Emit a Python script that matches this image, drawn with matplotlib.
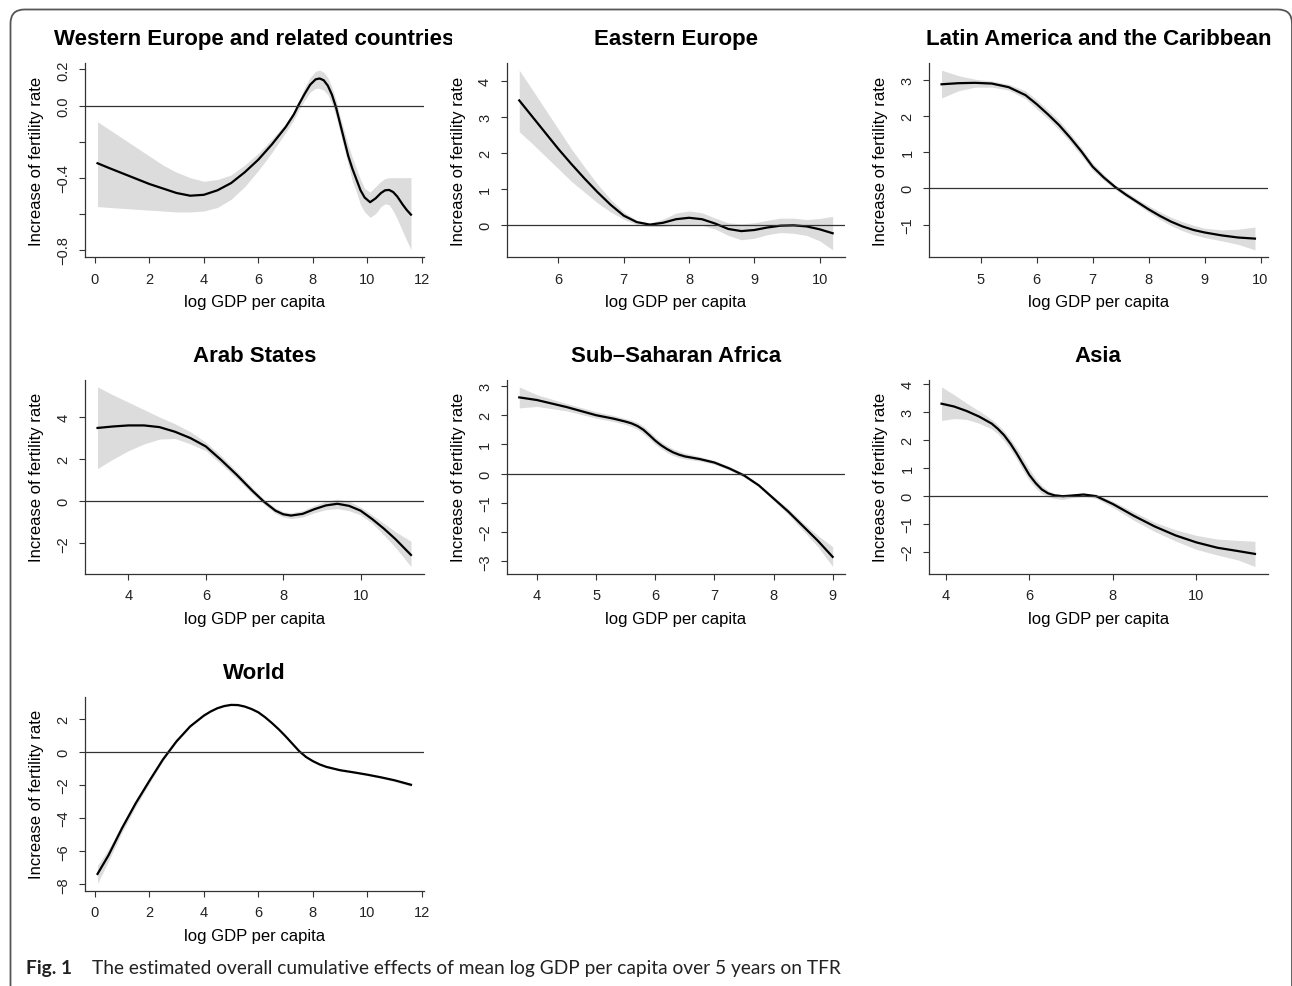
import numpy as np
import matplotlib.pyplot as plt
from matplotlib.patches import FancyBboxPatch
from matplotlib.transforms import IdentityTransform, Bbox

# Western Europe and related countries
we_x = [0.1, 0.5, 1.0, 1.5, 2.0, 2.5, 3.0, 3.5, 4.0, 4.5, 5.0, 5.5, 6.0, 6.5, 7.0, 7.3,
        7.5, 7.7, 7.9, 8.1, 8.25, 8.4, 8.55, 8.7, 8.85, 9.0, 9.15, 9.3, 9.45, 9.6, 9.75,
        9.9, 10.1, 10.3, 10.5, 10.65, 10.8, 10.95, 11.1, 11.3, 11.45, 11.6]
we_fit = [-0.32, -0.345, -0.375, -0.405, -0.435, -0.46, -0.485, -0.50, -0.495, -0.47, -0.43,
          -0.37, -0.30, -0.215, -0.12, -0.05, 0.01, 0.065, 0.115, 0.145, 0.15, 0.14, 0.11,
          0.06, -0.01, -0.10, -0.19, -0.28, -0.35, -0.41, -0.47, -0.51, -0.536, -0.515,
          -0.485, -0.47, -0.468, -0.48, -0.505, -0.55, -0.58, -0.605]
we_hi = [-0.09, -0.13, -0.18, -0.23, -0.28, -0.33, -0.37, -0.40, -0.42, -0.41, -0.385,
         -0.33, -0.265, -0.185, -0.10, -0.03, 0.03, 0.10, 0.155, 0.19, 0.196, 0.185, 0.155,
         0.10, 0.03, -0.06, -0.14, -0.22, -0.29, -0.35, -0.41, -0.46, -0.48, -0.45, -0.42,
         -0.405, -0.40, -0.40, -0.40, -0.40, -0.40, -0.40]
we_lo = [-0.56, -0.565, -0.57, -0.575, -0.58, -0.585, -0.59, -0.59, -0.585, -0.565, -0.52,
         -0.45, -0.36, -0.26, -0.15, -0.08, -0.02, 0.03, 0.075, 0.095, 0.095, 0.085, 0.06,
         0.01, -0.06, -0.15, -0.24, -0.33, -0.42, -0.48, -0.55, -0.59, -0.62, -0.60, -0.56,
         -0.545, -0.55, -0.585, -0.63, -0.70, -0.75, -0.80]

# Eastern Europe
ee_x = [5.4, 5.6, 5.8, 6.0, 6.2, 6.4, 6.6, 6.8, 7.0, 7.2, 7.4, 7.6, 7.8, 8.0, 8.2, 8.4,
        8.6, 8.8, 9.0, 9.2, 9.4, 9.6, 9.8, 10.0, 10.2]
ee_fit = [3.45, 3.0, 2.55, 2.1, 1.68, 1.28, 0.9, 0.55, 0.25, 0.07, 0.0, 0.05, 0.15, 0.19,
          0.15, 0.03, -0.12, -0.18, -0.15, -0.08, -0.03, -0.02, -0.05, -0.13, -0.24]
ee_hi = [4.29, 3.75, 3.2, 2.65, 2.1, 1.6, 1.12, 0.7, 0.35, 0.12, 0.04, 0.15, 0.32, 0.38,
         0.33, 0.18, 0.05, 0.02, 0.05, 0.12, 0.18, 0.18, 0.14, 0.17, 0.23]
ee_lo = [2.58, 2.25, 1.9, 1.55, 1.2, 0.9, 0.6, 0.35, 0.15, 0.0, -0.05, -0.05, -0.02, 0.0,
         -0.02, -0.12, -0.3, -0.42, -0.38, -0.28, -0.22, -0.24, -0.3, -0.45, -0.7]

# Latin America and the Caribbean
la_x = [4.3, 4.6, 4.9, 5.2, 5.5, 5.8, 6.0, 6.2, 6.4, 6.6, 6.8, 7.0, 7.2, 7.4, 7.6, 7.8,
        8.0, 8.2, 8.4, 8.6, 8.8, 9.0, 9.3, 9.6, 9.9]
la_fit = [2.88, 2.91, 2.92, 2.9, 2.8, 2.58, 2.33, 2.05, 1.75, 1.4, 1.02, 0.6, 0.3, 0.04,
          -0.18, -0.38, -0.58, -0.76, -0.92, -1.05, -1.15, -1.22, -1.3, -1.36, -1.39]
la_hi = [3.27, 3.12, 3.02, 2.97, 2.88, 2.7, 2.45, 2.17, 1.88, 1.52, 1.12, 0.7, 0.38, 0.1,
         -0.1, -0.3, -0.48, -0.65, -0.8, -0.92, -1.02, -1.1, -1.15, -1.13, -1.07]
la_lo = [2.5, 2.7, 2.8, 2.8, 2.72, 2.48, 2.2, 1.93, 1.62, 1.28, 0.9, 0.5, 0.22, -0.02,
         -0.24, -0.45, -0.66, -0.86, -1.03, -1.17, -1.28, -1.36, -1.45, -1.55, -1.7]

# Arab States
ar_x = [3.2, 3.6, 4.0, 4.4, 4.8, 5.2, 5.6, 6.0, 6.4, 6.8, 7.2, 7.5, 7.8, 8.0, 8.2, 8.5,
        8.8, 9.1, 9.4, 9.7, 10.0, 10.3, 10.6, 10.9, 11.3]
ar_fit = [3.48, 3.55, 3.6, 3.6, 3.52, 3.3, 3.0, 2.6, 1.95, 1.25, 0.5, -0.02, -0.45, -0.62,
          -0.68, -0.6, -0.38, -0.2, -0.12, -0.22, -0.45, -0.85, -1.3, -1.8, -2.55]
ar_hi = [5.43, 5.05, 4.7, 4.35, 4.0, 3.68, 3.3, 2.8, 2.15, 1.42, 0.65, 0.1, -0.32, -0.5,
         -0.55, -0.45, -0.2, 0.0, 0.1, 0.0, -0.28, -0.65, -1.05, -1.45, -1.9]
ar_lo = [1.55, 2.0, 2.4, 2.72, 2.95, 2.98, 2.72, 2.4, 1.75, 1.08, 0.35, -0.15, -0.58,
         -0.75, -0.82, -0.75, -0.55, -0.4, -0.35, -0.45, -0.65, -1.05, -1.6, -2.2, -3.1]

# Sub-Saharan Africa
ss_x = [3.7, 4.0, 4.5, 5.0, 5.3, 5.5, 5.6, 5.7, 5.8, 5.9, 6.0, 6.1, 6.2, 6.3, 6.4, 6.5,
        6.75, 7.0, 7.25, 7.5, 7.75, 8.0, 8.25, 8.5, 8.75, 9.0]
ss_fit = [2.61, 2.52, 2.28, 2.0, 1.88, 1.78, 1.72, 1.63, 1.5, 1.32, 1.13, 0.97, 0.84, 0.73,
          0.65, 0.59, 0.5, 0.38, 0.18, -0.06, -0.4, -0.85, -1.3, -1.8, -2.3, -2.85]
ss_hi = [2.97, 2.7, 2.4, 2.12, 1.99, 1.88, 1.83, 1.75, 1.63, 1.45, 1.25, 1.09, 0.96, 0.85,
         0.77, 0.7, 0.58, 0.45, 0.25, 0.0, -0.35, -0.78, -1.2, -1.68, -2.12, -2.5]
ss_lo = [2.25, 2.3, 2.15, 1.9, 1.78, 1.68, 1.61, 1.51, 1.37, 1.19, 1.0, 0.85, 0.72, 0.62,
         0.55, 0.5, 0.43, 0.32, 0.12, -0.12, -0.45, -0.92, -1.4, -1.95, -2.5, -3.18]

# Asia
as_x = [3.9, 4.2, 4.5, 4.8, 5.1, 5.25, 5.4, 5.55, 5.7, 5.85, 6.0, 6.15, 6.3, 6.45, 6.6,
        6.8, 7.0, 7.3, 7.6, 8.0, 8.5, 9.0, 9.5, 10.0, 10.5, 11.0, 11.4]
as_fit = [3.28, 3.18, 3.02, 2.82, 2.57, 2.38, 2.15, 1.85, 1.5, 1.12, 0.74, 0.45, 0.22, 0.08,
          0.01, -0.02, 0.0, 0.04, -0.02, -0.3, -0.72, -1.1, -1.42, -1.67, -1.86, -1.98, -2.08]
as_hi = [3.88, 3.6, 3.3, 3.02, 2.72, 2.53, 2.3, 2.02, 1.7, 1.33, 0.95, 0.62, 0.36, 0.18,
         0.08, 0.03, 0.05, 0.08, 0.05, -0.2, -0.58, -0.95, -1.22, -1.42, -1.55, -1.6, -1.63]
as_lo = [2.68, 2.75, 2.72, 2.58, 2.38, 2.2, 1.95, 1.65, 1.3, 0.9, 0.55, 0.28, 0.07, -0.04,
         -0.1, -0.14, -0.08, -0.02, -0.1, -0.42, -0.88, -1.28, -1.62, -1.92, -2.12, -2.3, -2.53]

# World
wo_x = [0.1, 0.5, 1.0, 1.5, 2.0, 2.5, 3.0, 3.5, 4.0, 4.25, 4.5, 4.75, 5.0, 5.25, 5.5, 5.75,
        6.0, 6.25, 6.5, 6.75, 7.0, 7.25, 7.5, 7.75, 8.0, 8.25, 8.5, 9.0, 9.5, 10.0, 10.5,
        11.0, 11.6]
wo_fit = [-7.37, -6.25, -4.6, -3.1, -1.75, -0.45, 0.65, 1.55, 2.2, 2.45, 2.65, 2.78, 2.85,
          2.84, 2.75, 2.6, 2.4, 2.1, 1.75, 1.37, 0.95, 0.5, 0.05, -0.3, -0.55, -0.75, -0.9,
          -1.1, -1.23, -1.37, -1.53, -1.71, -1.98]
wo_hi = [-6.85, -5.9, -4.35, -2.9, -1.6, -0.35, 0.72, 1.6, 2.24, 2.49, 2.69, 2.83, 2.91,
         2.9, 2.8, 2.65, 2.45, 2.15, 1.8, 1.42, 1.0, 0.55, 0.1, -0.25, -0.5, -0.7, -0.85,
         -1.05, -1.18, -1.32, -1.47, -1.64, -1.88]
wo_lo = [-7.95, -6.6, -4.85, -3.3, -1.9, -0.55, 0.58, 1.5, 2.16, 2.41, 2.61, 2.73, 2.8,
         2.78, 2.7, 2.55, 2.35, 2.05, 1.7, 1.32, 0.9, 0.45, 0.0, -0.35, -0.6, -0.8, -0.95,
         -1.15, -1.28, -1.42, -1.59, -1.78, -2.08]

titles = ["Western Europe and related countries", "Eastern Europe",
          "Latin America and the Caribbean", "Arab States", "Sub\u2013Saharan Africa",
          "Asia", "World"]
xticks = [[0, 2, 4, 6, 8, 10, 12], [6, 7, 8, 9, 10], [5, 6, 7, 8, 9, 10],
          [4, 6, 8, 10], [4, 5, 6, 7, 8, 9], [4, 6, 8, 10], [0, 2, 4, 6, 8, 10, 12]]
yticks = [[-0.8, -0.6, -0.4, -0.2, 0.0, 0.2], [0, 1, 2, 3, 4], [-1, 0, 1, 2, 3],
          [-2, 0, 2, 4], [-3, -2, -1, 0, 1, 2, 3], [-2, -1, 0, 1, 2, 3, 4],
          [-8, -6, -4, -2, 0, 2]]
we_ylabels = ["\u22120.8", "", "\u22120.4", "", "0.0", "0.2"]

caption_bold = "Fig. 1"
caption = "The estimated overall cumulative effects of mean log GDP per capita over 5 years on TFR"

plt.rcParams['font.family'] = ['Liberation Sans', 'DejaVu Sans']

W, H = 1292, 987
fig = plt.figure(figsize=(W / 100, H / 100), dpi=100)

# figure frame (top and left edges, rounded corners)
frame = FancyBboxPatch((10.5, -40), 1281.5, 1016.5, boxstyle="round,pad=0,rounding_size=14",
                       transform=IdentityTransform(), fill=False, edgecolor="#555555",
                       linewidth=1.3)
fig.patches.append(frame)

data = [(we_x, we_fit, we_lo, we_hi), (ee_x, ee_fit, ee_lo, ee_hi),
        (la_x, la_fit, la_lo, la_hi), (ar_x, ar_fit, ar_lo, ar_hi),
        (ss_x, ss_fit, ss_lo, ss_hi), (as_x, as_fit, as_lo, as_hi),
        (wo_x, wo_fit, wo_lo, wo_hi)]

lefts = [85, 506.7, 929]
tops = [64, 380.7, 697.7]
axw, axh = 338.5, 194

for i, (x, fit, lo, hi) in enumerate(data):
    left = lefts[i % 3]
    top = tops[i // 3]
    ax = fig.add_axes([left / W, 1 - (top + axh) / H, axw / W, axh / H])
    ax.fill_between(x, lo, hi, color="#dcdcdc", linewidth=0)
    ax.plot(x, fit, color="black", linewidth=1.6, solid_joinstyle="round")
    ax.axhline(0, color="#333333", linewidth=0.9)
    ax.margins(0.04)

    for s in ["top", "right"]:
        ax.spines[s].set_visible(False)
    for s in ["left", "bottom"]:
        ax.spines[s].set_color("#333333")
        ax.spines[s].set_linewidth(0.9)

    ax.set_xticks(xticks[i])
    ax.set_yticks(yticks[i])
    if i == 0:
        ax.set_yticklabels(we_ylabels)
    ax.tick_params(length=4.3, width=0.8, color="#333333", labelsize=10.5,
                   labelcolor="#222222", pad=6.2)
    ax.tick_params(axis="y", labelrotation=90)
    for lbl in ax.get_yticklabels():
        lbl.set_va("center")

    ax.set_xlabel("log GDP per capita", fontsize=12, labelpad=6)
    ax.set_ylabel("Increase of fertility rate", fontsize=12)
    ax.yaxis.set_label_coords(-0.121, 0.5)

    t = ax.set_title(titles[i], fontsize=16, fontweight="bold", pad=13.5)
    if i == 0:
        # the long title is cut at the edge of its panel
        t.set_clip_box(Bbox([[0, 0], [452, H]]))
        t.set_clip_on(True)

fig.text(26 / W, 1 - 974 / H, caption_bold, fontsize=13.8, fontweight="bold",
         family="Lato", va="baseline", color="#222222")
fig.text(91.7 / W, 1 - 974 / H, caption, fontsize=13.8, family="Lato",
         va="baseline", color="#222222")

fig.savefig("out.png", dpi=100)
